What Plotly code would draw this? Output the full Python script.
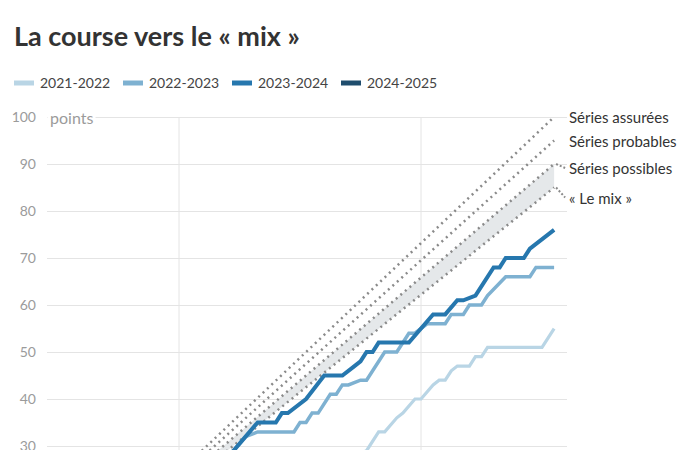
import plotly.graph_objects as go

# ---------------- data ----------------
seasons = ["2021-2022", "2022-2023", "2023-2024", "2024-2025"]
season_colors = ["#b9d5e5", "#7eb1d1", "#2677ae", "#1f4d6d"]
season_widths = [3.2, 3.5, 4, 4]

games_2122 = [0, 51, 53, 54, 56, 57, 59, 60, 62, 63, 64, 65, 66, 68, 69, 70, 71, 80, 82]
points_2122 = [0, 29, 33, 33, 36, 37, 40, 40, 43, 44, 44, 46, 47, 47, 49, 49, 51, 51, 55]

games_2223 = [0, 29, 31, 33, 39, 40, 41, 42, 43, 45, 46, 47, 48, 50, 51, 52, 54, 56, 58, 59,
              61, 64, 65, 67, 68, 70, 71, 74, 78, 79, 82]
points_2223 = [0, 29, 32, 33, 33, 35, 35, 37, 37, 41, 41, 43, 43, 44, 44, 46, 50, 50, 54, 54,
               56, 56, 58, 58, 60, 60, 62, 66, 66, 68, 68]

games_2324 = [0, 29, 31, 33, 36, 37, 38, 40, 41, 44, 47, 49, 50, 51, 52, 53, 58, 60, 62, 64,
              66, 67, 69, 72, 73, 74, 77, 78, 82]
points_2324 = [0, 29, 32, 35, 35, 37, 37, 39, 40, 45, 45, 47, 48, 50, 50, 52, 52, 55, 58, 58,
               61, 61, 62, 68, 68, 70, 70, 72, 76]

games_2425 = [0, 10, 20, 25]
points_2425 = [0, 9, 18, 22]

threshold_names = ["Séries assurées", "Séries probables", "Séries possibles", "« Le mix »"]
threshold_points = [100, 95, 90, 85]
threshold_games = [0, 82]

y_ticks = [30, 40, 50, 60, 70, 80, 90, 100]
y_tick_labels = ["30", "40", "50", "60", "70", "80", "90", "100"]
x_grid_games = [20, 60]

series_games = [games_2122, games_2223, games_2324, games_2425]
series_points = [points_2122, points_2223, points_2324, points_2425]

# ---------------- figure ----------------
FONT = "Lato, 'Open Sans', sans-serif"
GRID = "#e4e4e4"
DOT = "#8a8a8a"
OFF = 8  # page offset of the plot div inside the window

fig = go.Figure()

# shaded band between "possibles" and "le mix"
fig.add_trace(go.Scatter(x=threshold_games, y=[0, threshold_points[3]], mode="lines",
                         line=dict(width=0), hoverinfo="skip"))
fig.add_trace(go.Scatter(x=threshold_games, y=[0, threshold_points[2]], mode="lines",
                         line=dict(width=0), fill="tonexty", fillcolor="#e5e8ea",
                         hoverinfo="skip"))

# dotted pace lines
for name, pts in zip(threshold_names, threshold_points):
    fig.add_trace(go.Scatter(x=threshold_games, y=[0, pts], mode="lines", name=name,
                             line=dict(color=DOT, width=2.5, dash="2px,4px")))

# season lines
for name, g, p, c, w in zip(seasons, series_games, series_points, season_colors, season_widths):
    fig.add_trace(go.Scatter(x=g, y=p, mode="lines", name=name,
                             line=dict(color=c, width=w)))

Y0, Y1 = 27.45, 101.49
X0, X1 = -1.82, 84.13
ML, MR, MT, MB = 39, 141, 102, 0
PW, PH = 700.0 - ML - MR, 450.0 - MT - MB

shapes = []
for gx in x_grid_games:
    shapes.append(dict(type="line", xref="x", yref="y", x0=gx, x1=gx, y0=Y0, y1=100,
                       line=dict(color=GRID, width=1), layer="below"))

annotations = []
# right-hand labels
label_yshift = [0, 0, -4, -10]
for name, pts, ys in zip(threshold_names, threshold_points, label_yshift):
    annotations.append(dict(x=82, y=pts, xref="x", yref="y", text=name, showarrow=False,
                            xanchor="left", yanchor="middle", xshift=13, yshift=ys,
                            font=dict(family=FONT, size=15, color="#333333")))
# small leaders for the shifted labels
for pts, ys in zip(threshold_points[2:], label_yshift[2:]):
    shapes.append(dict(type="line", xref="x", yref="y", xsizemode="pixel", ysizemode="pixel",
                       xanchor=82, yanchor=pts, x0=2, x1=11, y0=0, y1=ys,
                       line=dict(color=DOT, width=2, dash="2px,2px")))

# "points" unit label
annotations.append(dict(x=0, y=100, xref="paper", yref="y", text="points", showarrow=False,
                        xanchor="left", yanchor="middle", bgcolor="white", borderpad=2,
                        font=dict(family=FONT, size=16, color="#9b9b9b")))

# custom legend (positions given in window pixels)
def px_x(px):
    return (px - OFF - ML) / PW
def px_y(py):
    return (450 - MB - (py - OFF)) / PH

leg_y = px_y(83)
for i, (name, c) in enumerate(zip(seasons, season_colors)):
    start = 14 + i * 109
    shapes.append(dict(type="line", xref="paper", yref="paper", x0=px_x(start), x1=px_x(start + 20),
                       y0=leg_y, y1=leg_y, line=dict(color=c, width=5)))
    annotations.append(dict(x=px_x(start + 24), y=leg_y, xref="paper", yref="paper", text=name,
                            showarrow=False, xanchor="left", yanchor="middle",
                            font=dict(family=FONT, size=14, color="#444444")))

fig.update_layout(
    width=700, height=450,
    margin=dict(l=ML, r=MR, t=MT, b=MB),
    plot_bgcolor="white", paper_bgcolor="white",
    showlegend=False,
    font=dict(family=FONT),
    title=dict(text="<b>La course vers le « mix »</b>", x=(14 - OFF) / 700, xanchor="left",
               y=1 - (37 - OFF) / 450, yanchor="middle",
               font=dict(family=FONT, size=27, color="#333333")),
    xaxis=dict(range=[X0, X1], showgrid=False, zeroline=False, showticklabels=False,
               showline=False, ticks=""),
    yaxis=dict(range=[Y0, Y1], tickvals=y_ticks, ticktext=y_tick_labels, showgrid=True,
               gridcolor=GRID, gridwidth=1, zeroline=False, showline=False, ticks="",
               ticklabelstandoff=10, tickfont=dict(family=FONT, size=14, color="#9b9b9b")),
    shapes=shapes,
    annotations=annotations,
)

fig.write_html("out.html")
